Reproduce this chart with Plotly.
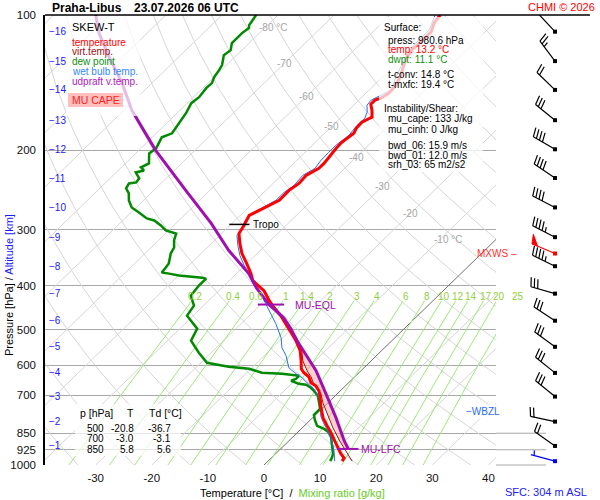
import numpy as np
import plotly.graph_objects as go

# ---------------- sounding values ----------------
TEMP_P = [100, 104.2, 109.1, 111.9, 115.4, 119.7, 124.0, 129.2, 136.0, 143.2, 149.2, 153.1,
          154.6, 157.9, 162.8, 168.7, 173.1, 178.5, 183.2, 191.8, 197.8, 207.2, 213.7, 219.2,
          227.2, 236.7, 245.3, 258.2, 264.9, 271.8, 278.9, 293.6, 305.9, 322.0, 338.9, 356.8,
          375.6, 389.3, 409.7, 431.2, 447.0, 465.7, 485.3, 508.2, 529.4, 557.3, 586.6, 611.1,
          623.8, 636.7, 656.6, 666.8, 684.2, 705.6, 746.6, 785.8, 818.8, 848.8, 884.3, 916.6,
          945.3, 964.9, 980.6]
TEMP_C = [-51.1, -50.7, -49.6, -49.6, -49.7, -49.7, -49.3, -48.4, -47.1, -46.1, -45.9, -46.4,
          -47.1, -47.1, -45.8, -44.5, -45.4, -45.3, -44.8, -45.3, -45.2, -44.8, -44.6, -44.6,
          -45.6, -45.4, -45.9, -45.8, -46.7, -47.6, -48.4, -47.5, -46.9, -44.9, -42.7, -40.0,
          -37.4, -35.8, -32.0, -29.2, -27.1, -24.4, -22.0, -19.4, -17.1, -14.5, -12.5, -11.0,
          -9.8, -8.2, -6.7, -5.3, -3.8, -2.5, -0.3, 1.9, 4.1, 6.1, 8.2, 10.1,
          11.7, 13.0, 13.2]

DEW_P = [100, 105.3, 106.9, 109.7, 115.4, 119.7, 122.8, 129.2, 132.6, 137.4, 141.7, 145.4,
         152.3, 157.0, 165.3, 171.3, 177.6, 183.2, 187.0, 192.8, 197.8, 203.0, 213.7, 218.1,
         221.5, 223.8, 230.7, 235.5, 236.7, 242.8, 249.1, 258.2, 267.7, 274.6, 283.2, 286.1,
         293.6, 301.2, 304.3, 305.9, 317.0, 328.6, 338.9, 356.8, 364.2, 373.6, 375.6, 379.4,
         383.4, 385.3, 399.3, 420.4, 442.4, 465.7, 497.8, 529.4, 563.0, 592.7, 604.9, 611.1,
         623.8, 627.0, 633.5, 643.3, 649.9, 660.0, 663.4, 673.7, 684.2, 701.9, 720.2, 750.4,
         762.0, 773.8, 794.0, 818.8, 831.5, 844.4, 866.4, 893.3, 921.3, 945.3, 964.9, 980.6]
DEW_C = [-83.9, -83.3, -82.8, -83.1, -83.1, -82.0, -82.3, -80.8, -80.4, -80.0, -79.3, -79.4,
         -79.0, -79.3, -78.4, -78.0, -77.6, -77.2, -78.3, -77.7, -77.3, -77.6, -75.8, -76.5,
         -75.4, -76.5, -74.8, -74.6, -75.7, -75.3, -73.9, -72.6, -70.8, -68.6, -66.1, -64.4,
         -62.3, -60.5, -59.0, -58.1, -57.2, -55.9, -55.4, -53.9, -53.7, -53.5, -52.0, -49.9,
         -45.4, -44.5, -44.5, -44.1, -41.7, -41.1, -36.9, -35.8, -32.2, -28.9, -24.3, -20.3,
         -17.3, -13.5, -10.1, -10.1, -10.6, -8.7, -7.2, -5.8, -4.7, -3.1, -2.0, -0.3,
         -0.3, -0.3, 0.8, 2.3, 4.1, 5.4, 6.8, 8.0, 9.3, 10.3, 10.8, 11.1]

WETBULB_P = [100, 108.0, 116.6, 125.9, 136.0, 146.9, 152.3, 154.6, 158.7, 164.4, 169.6, 175.8,
             185.0, 194.8, 201.9, 210.4, 219.2, 227.2, 239.1, 247.9, 258.2, 264.9, 274.6, 286.1,
             298.1, 309.0, 325.3, 342.4, 360.4, 375.6, 389.3, 405.5, 431.2, 453.9, 485.3, 521.3,
             548.8, 571.8, 586.6, 608.0, 627.0, 640.0, 656.6, 677.2, 701.9, 731.4, 777.8, 806.4,
             831.5, 884.3, 930.8, 969.9, 980.6]
WETBULB_C = [-52.0, -50.3, -50.3, -49.3, -47.8, -46.1, -47.3, -47.8, -47.6, -46.3, -45.6, -45.7,
             -45.3, -45.8, -45.8, -45.7, -45.3, -46.2, -45.9, -46.4, -46.4, -47.2, -48.1, -48.2,
             -47.3, -46.9, -44.9, -42.7, -40.1, -37.8, -36.0, -33.4, -30.1, -27.4, -23.8, -20.3,
             -18.3, -16.1, -15.0, -13.4, -11.0, -9.2, -7.4, -5.1, -3.0, -1.1, 1.1, 2.9,
             4.6, 7.7, 9.9, 11.5, 11.9]

VIRT_P = [389.3, 409.7, 431.2, 465.7, 503.0, 529.4, 557.3, 586.6, 617.4, 636.7, 656.6, 673.7,
          694.8, 727.6, 765.9, 827.2, 884.3, 940.4, 980.6]
VIRT_C = [-35.8, -31.8, -29.1, -24.2, -19.6, -16.7, -14.2, -12.2, -9.6, -7.8, -6.3, -4.7,
          -2.9, -0.9, 1.7, 5.5, 9.1, 12.6, 15.0]

PARCEL_P = [100, 109.7, 124.0, 141.7, 162.8, 199.9, 245.3, 290.5, 333.7, 375.6, 403.5, 440.2,
            470.6, 497.8, 529.4, 571.8, 617.4, 694.8, 785.8, 884.3, 921.3]
PARCEL_C = [-112.5, -108.6, -102.4, -95.3, -88.6, -77.0, -64.3, -53.7, -45.6, -37.8, -33.9, -28.5,
            -23.5, -20.2, -16.9, -12.5, -8.0, -2.0, 4.2, 9.9, 12.1]

MU_LFC_P = 921.0
MU_EQL_P = 440.0
TROPO_P = 292.0
WBZL_P = 762.0

P_TICKS = [100, 200, 300, 400, 500, 600, 700, 850, 925, 1000]
T_TICKS = [-30, -20, -10, 0, 10, 20, 30, 40]
KM_LEVELS = [16, 15, 14, 13, 12, 11, 10, 9, 8, 7, 6, 5, 4, 3, 2, 1]
KM_P = [108.9, 126.6, 146.7, 171.3, 198.8, 230.3, 267.7, 311.7, 361.6, 416.1, 477.9, 546.2,
        624.2, 704.6, 800.9, 907.0]
ISO_LABEL_T = [-80, -70, -60, -50, -40, -30, -20, -10]
ISO_LABEL_P = [106.7, 127.9, 151.4, 177.3, 206.9, 240.3, 276.0, 315.4]
MIX_RATIOS = [0.2, 0.4, 0.6, 1, 1.4, 2, 3, 4, 6, 8, 10, 12, 14, 17, 20, 25]
MIX_LABEL_P = 422.0

# wind barbs at each km level (16 km ... 1 km), plus surface and max wind
WIND_DIR = [317, 323, 314, 309, 300, 304, 297, 297, 296, 286, 303, 306, 309, 309, 282, 305]
WIND_SPD = [10, 25, 20, 30, 40, 40, 40, 45, 45, 30, 30, 30, 30, 30, 20, 20]
SFC_P, SFC_DIR, SFC_SPD = 980.6, 285, 3
MXWS_P, MXWS_DIR, MXWS_SPD = 338.9, 293, 50

TABLE_P = [500, 700, 850]
TABLE_T = [-20.8, -3.0, 5.8]
TABLE_TD = [-36.7, -3.1, 5.6]

# ---------------- geometry ----------------
FIG_W, FIG_H = 600, 500
M_L, M_R, M_T, M_B = 45, 10, 15, 35
PW, PH = FIG_W - M_L - M_R, FIG_H - M_T - M_B
SKEW_EDGE = 496          # right end of the skew-T panel, px
PX_PER_C = 5.61
SKEW = 82.5              # deg C shift per decade of pressure
X_MIN = -39.04
X_MAX = X_MIN + (SKEW_EDGE - M_L) / PX_PER_C
DOM_END = (SKEW_EDGE - M_L) / PW
BARB_X = 555
STAFF, BARB, GAP = 25.0, 9.5, 3.5
FONT = "Liberation Sans, Arial, sans-serif"

C_T = "#ff0000"
C_TV = "#a01010"
C_TD = "#008a00"
C_TW = "#2a6cf0"
C_PARCEL = "#a010b0"
C_MIX = "#9be87a"
C_MIXTXT = "#8fd040"
C_KM = "#1a1aff"


def skew_x(t, p):
    return np.asarray(t, dtype=float) + SKEW * np.log10(1000.0 / np.asarray(p, dtype=float))


def xpix(xs):
    return M_L + (np.asarray(xs, dtype=float) - X_MIN) * PX_PER_C


def ypix(p):
    return M_T + PH * np.log10(np.asarray(p, dtype=float) / 100.0)


def px(x):
    return (x - M_L) / PW


def py(y):
    return 1 - (y - M_T) / PH


def lines(xs, ys, color, width, **kw):
    return go.Scatter(x=xs, y=ys, mode="lines", line=dict(color=color, width=width),
                      hoverinfo="skip", **kw)


fig = go.Figure()

# ---- background grid: isotherms, dry adiabats, mixing ratio lines ----
levels = np.logspace(2, 3, 60)
iso_x, iso_y = [], []
for t in range(-130, 50, 10):
    if t == 0:
        continue
    iso_x += [float(skew_x(t, 1000)), float(skew_x(t, 100)), None]
    iso_y += [1000, 100, None]
fig.add_trace(lines(iso_x, iso_y, "#d6d6d6", 1))

ad_x, ad_y = [], []
for theta in range(230, 530, 10):
    t = theta * (levels / 1000.0) ** 0.2857 - 273.15
    ad_x += list(skew_x(t, levels)) + [None]
    ad_y += list(levels) + [None]
fig.add_trace(lines(ad_x, ad_y, "#d6d6d6", 1))

fig.add_trace(lines([float(skew_x(0, 1000)), float(skew_x(0, 100))], [1000, 100], "#707070", 1))

mr_p = np.logspace(np.log10(MIX_LABEL_P + 10), 3, 30)
mr_x, mr_y = [], []
mix_label_x = []
for w in MIX_RATIOS:
    lg = np.log((w * mr_p / (622.0 + w)) / 6.112)
    t = 243.5 * lg / (17.67 - lg)
    mr_x += list(skew_x(t, mr_p)) + [None]
    mr_y += list(mr_p) + [None]
    lg0 = np.log((w * MIX_LABEL_P / (622.0 + w)) / 6.112)
    mix_label_x.append(float(skew_x(243.5 * lg0 / (17.67 - lg0), MIX_LABEL_P)))
fig.add_trace(lines(mr_x, mr_y, C_MIX, 1))

# ---- MU CAPE area between parcel and virtual temperature ----
cp = np.logspace(np.log10(MU_LFC_P), np.log10(MU_EQL_P), 80)
tp = np.interp(np.log10(cp), np.log10(PARCEL_P), PARCEL_C)
tv = np.interp(np.log10(cp), np.log10(VIRT_P), VIRT_C)
hi = np.maximum(tp, tv)
fig.add_trace(go.Scatter(
    x=list(skew_x(hi, cp)) + list(skew_x(tv, cp))[::-1],
    y=list(cp) + list(cp)[::-1],
    mode="lines", fill="toself", fillcolor="rgba(255,150,150,0.45)",
    line=dict(width=0), hoverinfo="skip"))

# ---- profiles ----
fig.add_trace(lines(skew_x(DEW_C, DEW_P), DEW_P, C_TD, 2.5))
fig.add_trace(lines(skew_x(WETBULB_C, WETBULB_P), WETBULB_P, C_TW, 1))
fig.add_trace(lines(skew_x(VIRT_C, VIRT_P), VIRT_P, C_TV, 1))
fig.add_trace(lines(skew_x(TEMP_C, TEMP_P), TEMP_P, C_T, 3))
fig.add_trace(lines(skew_x(PARCEL_C, PARCEL_P), PARCEL_P, C_PARCEL, 3))

# level markers
t_tropo = float(np.interp(np.log10(TROPO_P), np.log10(TEMP_P), TEMP_C))
x_tropo = float(skew_x(t_tropo, TROPO_P))
fig.add_trace(lines([x_tropo - 2.7, x_tropo + 0.9], [TROPO_P, TROPO_P], "black", 1.5))
x_eql = float(skew_x(np.interp(np.log10(MU_EQL_P), np.log10(PARCEL_P), PARCEL_C), MU_EQL_P))
x_lfc = float(skew_x(np.interp(np.log10(MU_LFC_P), np.log10(PARCEL_P), PARCEL_C), MU_LFC_P))
fig.add_trace(lines([x_eql - 2.0, x_eql + 2.7], [MU_EQL_P, MU_EQL_P], C_PARCEL, 2))
fig.add_trace(lines([x_lfc - 2.0, x_lfc + 1.8], [MU_LFC_P, MU_LFC_P], C_PARCEL, 2))


# ---- wind barbs (right panel, pixel coordinates) ----
def barb_geometry(p, direction, speed):
    x0, y0 = BARB_X, float(ypix(p))
    a = np.deg2rad(direction)
    ux, uy = np.sin(a), -np.cos(a)          # staff points to where the wind comes from
    nx_, ny_ = -uy, ux
    bx, by = 0.25 * ux + 0.97 * nx_, 0.25 * uy + 0.97 * ny_
    ex, ey = x0 + STAFF * ux, y0 + STAFF * uy
    xs, ys = [x0, ex, None], [y0, ey, None]
    fx, fy = [], []
    left = 5 * int(round(speed / 5.0))
    pos = 0.0
    while left >= 50:
        b0x, b0y = ex - pos * ux, ey - pos * uy
        b1x, b1y = ex - (pos + 6) * ux, ey - (pos + 6) * uy
        fx += [b0x, b0x + BARB * bx, b1x, b0x, None]
        fy += [b0y, b0y + BARB * by, b1y, b0y, None]
        pos += 7.5
        left -= 50
    while left >= 10:
        b0x, b0y = ex - pos * ux, ey - pos * uy
        xs += [b0x, b0x + BARB * bx, None]
        ys += [b0y, b0y + BARB * by, None]
        pos += GAP
        left -= 10
    if left >= 5:
        if pos == 0:
            pos = GAP
        b0x, b0y = ex - pos * ux, ey - pos * uy
        xs += [b0x, b0x + 0.55 * BARB * bx, None]
        ys += [b0y, b0y + 0.55 * BARB * by, None]
    return xs, ys, fx, fy


def add_barbs(ps, dirs, spds, color):
    bx_all, by_all, fx_all, fy_all = [], [], [], []
    for p, d, s in zip(ps, dirs, spds):
        xs, ys, fx, fy = barb_geometry(p, d, s)
        bx_all += xs
        by_all += ys
        fx_all += fx
        fy_all += fy
    fig.add_trace(lines(bx_all, by_all, color, 1.2, xaxis="x2", yaxis="y2"))
    if fx_all:
        fig.add_trace(go.Scatter(x=fx_all, y=fy_all, xaxis="x2", yaxis="y2", mode="lines",
                                 fill="toself", fillcolor=color, line=dict(color=color, width=1),
                                 hoverinfo="skip"))
    fig.add_trace(go.Scatter(x=[BARB_X] * len(ps), y=list(ypix(ps)), xaxis="x2", yaxis="y2",
                             mode="markers", marker=dict(symbol="square", size=4, color=color),
                             hoverinfo="skip"))


add_barbs(KM_P, WIND_DIR, WIND_SPD, "black")
add_barbs([MXWS_P], [MXWS_DIR], [MXWS_SPD], "#ff0000")
add_barbs([SFC_P], [SFC_DIR], [SFC_SPD], "#0000ff")

# ---------------- annotations ----------------
ann = []


def label(text, x, y, color="black", size=10, xanchor="left", **kw):
    ann.append(dict(text=text, x=px(x), y=py(y), xref="paper", yref="paper",
                    xanchor=xanchor, yanchor="middle", showarrow=False,
                    font=dict(family=FONT, size=size, color=color), **kw))


label("<b>Praha-Libus</b>", 50, 8, size=12)
label("<b>23.07.2026 06 UTC</b>", 132, 8, size=12)
label("CHMI © 2026", 597, 7, color="#ff0000", size=11, xanchor="right")

# isotherm labels
for t, p in zip(ISO_LABEL_T, ISO_LABEL_P):
    xp = float(xpix(skew_x(t, p)))
    if t in (-80, -10):
        label(f"{t} °C", xp - 8, float(ypix(p)), color="#a8a8a8", size=10)
    else:
        label(str(t), xp, float(ypix(p)), color="#a8a8a8", size=10, xanchor="center")

# mixing ratio labels
for w, xs in zip(MIX_RATIOS, mix_label_x):
    label(f"{w:g}", float(xpix(xs)), float(ypix(MIX_LABEL_P)), color=C_MIXTXT, size=10,
          xanchor="center")

# altitude ticks
for km, p in zip(KM_LEVELS, KM_P):
    label(f"\u2212{km}", 47, float(ypix(p)), color=C_KM, size=10)

# level labels
label("Tropo", float(xpix(x_tropo)) + 7, float(ypix(TROPO_P)), size=10)
label("MU-EQL", float(xpix(x_eql)) + 24, float(ypix(MU_EQL_P)), color=C_PARCEL, size=10.5)
label("MU-LFC", float(xpix(x_lfc)) + 11, float(ypix(MU_LFC_P)), color=C_PARCEL, size=10.5)
label("MXWS \u2013", 519, float(ypix(MXWS_P)), color="#ff3030", size=10, xanchor="right")
label("\u2212WBZL", 464, float(ypix(WBZL_P)), color="#2a6cf0", size=10, bgcolor="white")

# legend (top left)
label("SKEW-T", 70, 26.5, size=11)
label("temperature", 70, 42, color=C_T)
label("virt.temp.", 70, 51.7, color=C_TV)
label("dew point", 70, 61.5, color="#109010")
label("wet bulb temp.", 70, 71, color="#3388ff")
label("udpraft v.temp.", 70, 81, color="#b020c0")
label("MU CAPE", 96, 100.5, color="#ff2020", size=10.5, xanchor="center")

# surface / instability box
label("Surface:", 382, 27.3)
label("press: 980.6 hPa", 386, 40)
label("temp: 13.2 °C", 386, 50, color=C_T)
label("dwpt: 11.1 °C", 386, 60, color="#109010")
label("t-conv: 14.8 °C", 386, 74)
label("t-mxfc: 19.4 °C", 386, 84)
label("Instability/Shear:", 382, 108.3)
label("mu_cape: 133 J/kg", 386, 119)
label("mu_cinh: 0 J/kg", 386, 129.3)
label("bwd_06: 15.9 m/s", 386, 145)
label("bwd_01: 12.0 m/s", 386, 155)
label("srh_03: 65 m2/s2", 386, 164.3)

# level table (bottom left)
label("p [hPa]", 78, 413, size=10.5)
label("T", 125, 413, size=10.5)
label("Td [°C]", 147, 413, size=10.5)
for i, (p, t, td) in enumerate(zip(TABLE_P, TABLE_T, TABLE_TD)):
    yy = 428.7 + 10.2 * i
    label(str(p), 85, yy)
    label(f"{t:.1f}", 136, yy, xanchor="right")
    label(f"{td:.1f}", 173, yy, xanchor="right")

# axis titles
label("Temperature [°C]  /  <span style='color:#66cc22'>Mixing ratio [g/kg]</span>",
      292, 493, size=11, xanchor="center")
label("SFC: 304 m ASL", 589, 492, color="#2020ff", size=11, xanchor="right")
ann.append(dict(text="Pressure [hPa] / <span style='color:#1a1aff'>Altitude [km]</span>",
                x=px(9), y=py(285), xref="paper", yref="paper", textangle=-90,
                showarrow=False, xanchor="center", yanchor="middle",
                font=dict(family=FONT, size=11, color="black")))

# ---------------- shapes ----------------
WHITE = "rgba(255,255,255,0.72)"
shapes = [
    dict(type="rect", xref="paper", yref="paper", x0=px(66), x1=px(140), y0=py(16), y1=py(116),
         fillcolor=WHITE, line=dict(width=0), layer="above"),
    dict(type="rect", xref="paper", yref="paper", x0=px(68), x1=px(123), y0=py(93), y1=py(107),
         fillcolor="rgba(255,170,170,0.75)", line=dict(width=0), layer="above"),
    dict(type="rect", xref="paper", yref="paper", x0=px(379), x1=px(483), y0=py(17), y1=py(172),
         fillcolor=WHITE, line=dict(width=0), layer="above"),
    dict(type="rect", xref="paper", yref="paper", x0=px(75), x1=px(181), y0=py(404), y1=py(456),
         fillcolor=WHITE, line=dict(width=0), layer="above"),
    dict(type="line", xref="paper", yref="paper", x0=0, x1=1, y0=1, y1=1,
         line=dict(color="black", width=1.5)),
]
for p in (850, 925, 1000):
    yy = py(float(ypix(p)))
    shapes.append(dict(type="line", xref="paper", yref="paper", x0=px(SKEW_EDGE), x1=px(546),
                       y0=yy, y1=yy, line=dict(color="#a8a8a8", width=1), layer="below"))

fig.update_layout(
    width=FIG_W, height=FIG_H,
    margin=dict(l=M_L, r=M_R, t=M_T, b=M_B),
    paper_bgcolor="white", plot_bgcolor="white",
    showlegend=False,
    font=dict(family=FONT, size=10, color="black"),
    xaxis=dict(domain=[0, DOM_END], range=[X_MIN, X_MAX], tickvals=T_TICKS,
               ticktext=[str(t) for t in T_TICKS], showgrid=False, zeroline=False,
               showline=False, ticks="", tickfont=dict(size=11.5, color="#111"),
               ticklabelstandoff=4),
    yaxis=dict(type="log", range=[3, 2], tickvals=P_TICKS, ticktext=[str(p) for p in P_TICKS],
               showgrid=True, gridcolor="#a8a8a8", gridwidth=1, zeroline=False,
               showline=True, linecolor="black", linewidth=1.5, ticks="",
               tickfont=dict(size=11.5, color="#111"), ticklabelstandoff=5),
    xaxis2=dict(domain=[DOM_END, 1], range=[SKEW_EDGE, FIG_W - M_R], visible=False,
                anchor="y2"),
    yaxis2=dict(domain=[0, 1], range=[M_T + PH, M_T], visible=False, anchor="x2"),
    annotations=ann,
    shapes=shapes,
)

# the page body has a default 8px margin; drop it so the figure fills the window
fig.write_html("out.html", config={"displayModeBar": False},
               post_script="document.body.style.margin='0';")
